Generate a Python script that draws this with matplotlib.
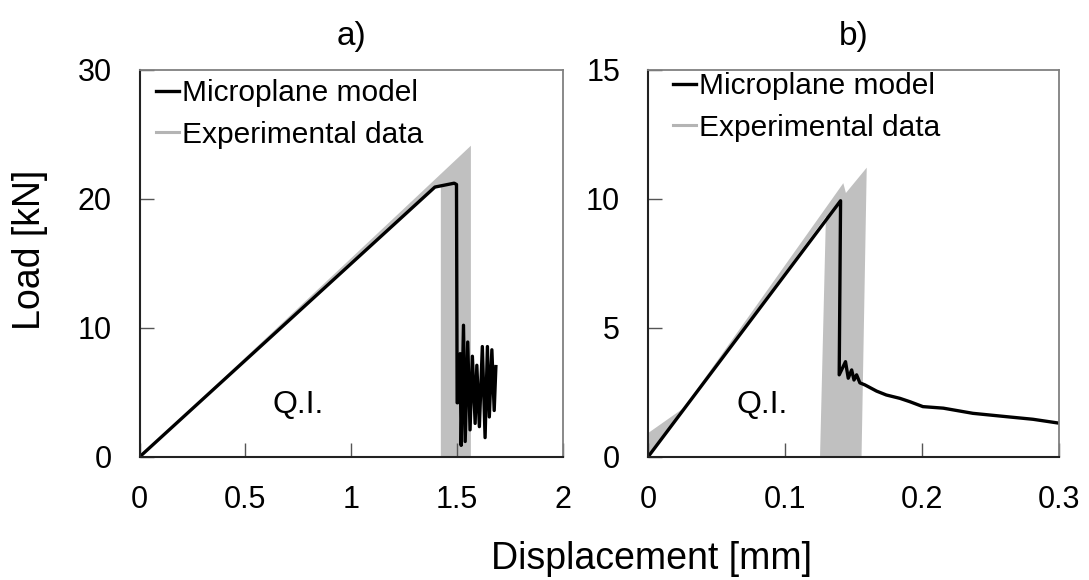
import numpy as np
import matplotlib
matplotlib.use('Agg')
from matplotlib import pyplot as plt

plt.rcParams['font.family'] = ['Liberation Sans', 'DejaVu Sans']

# panel a) - model curve (displacement [mm], load [kN])
model_a_x = [0.0, 1.395, 1.486, 1.497, 1.500, 1.503, 1.514, 1.519, 1.530, 1.538, 1.550, 1.561,
             1.572, 1.585, 1.593, 1.605, 1.619, 1.632, 1.643, 1.652, 1.664, 1.675, 1.683]
model_a_y = [0.0, 20.9, 21.2, 21.1, 4.2, 4.2, 8.0, 0.9, 10.2, 1.2, 8.9, 2.1,
             7.8, 2.6, 7.1, 2.35, 8.55, 1.5, 8.55, 3.1, 8.3, 3.6, 7.0]
# panel a) - experimental envelope (outline of grey band)
exp_a_x = [0.0, 1.565, 1.565, 1.423, 1.423, 1.395, 0.0]
exp_a_y = [0.0, 24.1, 0.0, 0.0, 21.0, 20.9, 0.0]

# panel b) - model curve
model_b_x = [0.0, 0.1406, 0.1396, 0.1442, 0.1462, 0.1487, 0.1504, 0.1523, 0.1547, 0.1584,
             0.1669, 0.174, 0.1839, 0.1912, 0.2007, 0.2156, 0.2372, 0.2618, 0.281, 0.3]
model_b_y = [0.0, 9.92, 3.18, 3.69, 3.05, 3.37, 2.98, 3.18, 2.87, 2.79,
             2.55, 2.4, 2.27, 2.14, 1.95, 1.89, 1.69, 1.56, 1.46, 1.31]
# panel b) - experimental envelope
exp_b_x = [0.0, 0.0, 0.026, 0.1426, 0.1445, 0.1597, 0.1559, 0.1256, 0.1299, 0.0]
exp_b_y = [0.0, 0.92, 1.89, 10.6, 10.22, 11.2, 0.0, 0.0, 9.3, 0.0]

panels = [
    dict(mx=model_a_x, my=model_a_y, ex=exp_a_x, ey=exp_a_y, xlim=(0, 2), ylim=(0, 30),
         xticks=[0, 0.5, 1, 1.5, 2], xlabels=['0', '0.5', '1', '1.5', '2'],
         yticks=[0, 10, 20, 30], title='a)', qi=(0.75, 4.0), leg=(0.040, 0.975),
         rect=[0.1281, 0.2121, 0.3889, 0.668]),
    dict(mx=model_b_x, my=model_b_y, ex=exp_b_x, ey=exp_b_y, xlim=(0, 0.3), ylim=(0, 15),
         xticks=[0, 0.1, 0.2, 0.3], xlabels=['0', '0.1', '0.2', '0.3'],
         yticks=[0, 5, 10, 15], title='b)', qi=(0.083, 2.0), leg=(0.062, 0.993),
         rect=[0.595, 0.2121, 0.3774, 0.668]),
]

fig = plt.figure(figsize=(10.89, 5.80), dpi=100)

for p in panels:
    ax = fig.add_axes(p['rect'])
    ax.fill(p['ex'], p['ey'], color='#c0c0c0', lw=0)
    ax.plot(p['mx'], p['my'], color='black', lw=2.4)
    # legend proxies
    h1, = ax.plot([], [], color='black', lw=2.4)
    h2, = ax.plot([], [], color='#b4b4b4', lw=2.2)
    ax.legend([h1, h2], ['Microplane model', 'Experimental data'], loc='upper left',
              bbox_to_anchor=p['leg'], frameon=False, fontsize=21.5, handlelength=0.75,
              handletextpad=0.1, labelspacing=0.45, borderpad=0, borderaxespad=0)
    ax.set_xlim(*p['xlim'])
    ax.set_ylim(*p['ylim'])
    ax.set_xticks(p['xticks'])
    ax.set_xticklabels(p['xlabels'])
    ax.set_yticks(p['yticks'])
    ax.tick_params(direction='in', length=10, width=1, color='#555555',
                   labelsize=22, pad=20)
    for s in ['left', 'bottom']:
        ax.spines[s].set_color('#222222')
        ax.spines[s].set_linewidth(1.5)
    for s in ['top', 'right']:
        ax.spines[s].set_color('#808080')
        ax.spines[s].set_linewidth(1.3)
    ax.text(p['qi'][0], p['qi'][1], 'Q.I.', fontsize=23, ha='center', va='center')
    ax.set_title(p['title'], fontsize=24, pad=18)

fig.text(0.598, 0.036, 'Displacement [mm]', fontsize=27, ha='center', va='center')
fig.text(0.028, 0.569, 'Load [kN]', fontsize=27, ha='center', va='center', rotation=90)

fig.savefig('out.png', dpi=100)
